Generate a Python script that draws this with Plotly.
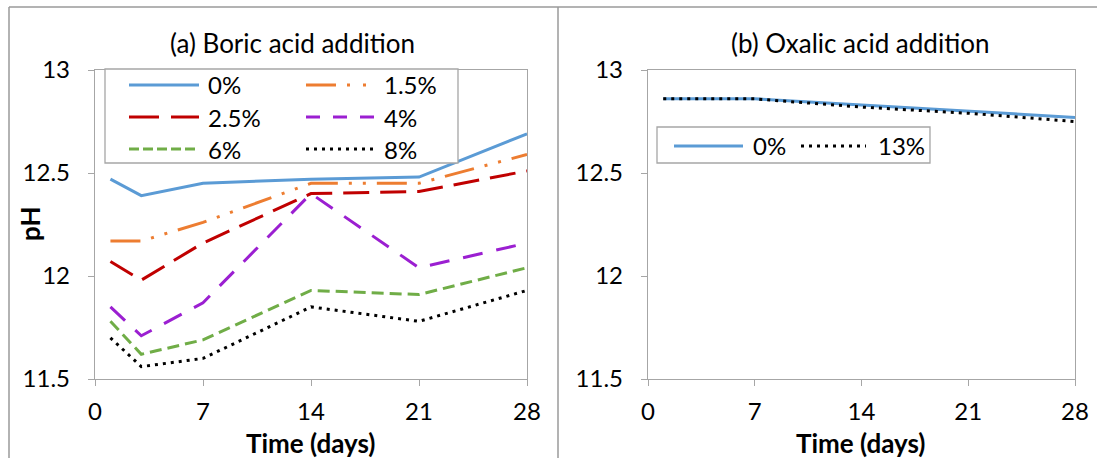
import plotly.graph_objects as go

# ---- data -------------------------------------------------------------
days = [1, 3, 7, 14, 21, 28]

boric_labels = ["0%", "1.5%", "2.5%", "4%", "6%", "8%"]
boric_0 = [12.47, 12.39, 12.45, 12.47, 12.48, 12.69]
boric_15 = [12.17, 12.17, 12.26, 12.45, 12.45, 12.59]
boric_25 = [12.07, 11.98, 12.16, 12.40, 12.41, 12.51]
boric_4 = [11.85, 11.71, 11.87, 12.40, 12.04, 12.16]
boric_6 = [11.78, 11.62, 11.69, 11.93, 11.91, 12.04]
boric_8 = [11.70, 11.56, 11.60, 11.85, 11.78, 11.93]

oxalic_labels = ["0%", "13%"]
oxalic_0 = [12.86, 12.86, 12.86, 12.83, 12.80, 12.77]
oxalic_13 = [12.86, 12.86, 12.86, 12.82, 12.79, 12.75]

x_ticks = [0, 7, 14, 21, 28]

# ---- styles -----------------------------------------------------------
W, H = 1097, 458
FONT = "Lato"
GRID = "#A6A6A6"
TICK_SIZE = 24
LEG_SIZE = 24
TITLE_SIZE = 26
AXT_SIZE = 26

boric_series = [boric_0, boric_15, boric_25, boric_4, boric_6, boric_8]
boric_colors = ["#5B9BD5", "#ED7D31", "#C00000", "#9B1FD1", "#70AD47", "#000000"]
boric_dash = ["solid", "30px,11px,3px,11px,3px,11px", "26px,11px",
              "20px,14px", "12px,6px", "3px,5px"]
boric_key_dash = ["solid", "30px,11px,3px,13px,3px,11px", "30px,12px",
                  "14px,13px", "10px,4px", "3px,5px"]

oxalic_series = [oxalic_0, oxalic_13]
oxalic_colors = ["#5B9BD5", "#000000"]
oxalic_dash = ["solid", "3px,5px"]


def px(x):
    return x / W


def py(y):
    return 1 - y / H


fig = go.Figure()

for name, vals, col, dash in zip(boric_labels, boric_series, boric_colors, boric_dash):
    fig.add_trace(go.Scatter(x=days, y=vals, name=name, mode="lines",
                             line=dict(color=col, width=3, dash=dash),
                             xaxis="x", yaxis="y", showlegend=False))

for name, vals, col, dash in zip(oxalic_labels, oxalic_series, oxalic_colors, oxalic_dash):
    fig.add_trace(go.Scatter(x=days, y=vals, name=name, mode="lines",
                             line=dict(color=col, width=3, dash=dash),
                             xaxis="x2", yaxis="y2", showlegend=False))

axis_common = dict(showline=True, mirror=True, linecolor=GRID, linewidth=1.3,
                   ticks="outside", ticklen=6, tickcolor=GRID, tickwidth=1.3,
                   showgrid=False, zeroline=False, automargin=False,
                   tickfont=dict(family=FONT, size=TICK_SIZE, color="#000000"))

y_dom = [py(379), py(70)]
fig.update_layout(
    width=W, height=H,
    margin=dict(l=0, r=0, t=0, b=0, pad=0, autoexpand=False),
    paper_bgcolor="white", plot_bgcolor="white",
    font=dict(family=FONT, color="#000000"),
    xaxis=dict(domain=[px(95), px(527)], range=[0, 28], tickvals=x_ticks,
               ticklabelstandoff=5, anchor="y", **axis_common),
    yaxis=dict(domain=y_dom, range=[11.5, 13], tick0=11.5, dtick=0.5,
               ticklabelstandoff=13, anchor="x", **axis_common),
    xaxis2=dict(domain=[px(648), px(1075)], range=[0, 28], tickvals=x_ticks,
                ticklabelstandoff=5, anchor="y2", **axis_common),
    yaxis2=dict(domain=y_dom, range=[11.5, 13], tick0=11.5, dtick=0.5,
                ticklabelstandoff=13, anchor="x2", **axis_common),
)

shapes = []
annotations = []

# panel frames
frame = dict(type="line", xref="paper", yref="paper",
             line=dict(color="#9A9A9A", width=1.5), layer="above")
shapes.append(dict(frame, x0=px(9), x1=1, y0=py(7), y1=py(7)))
shapes.append(dict(frame, x0=px(9), x1=px(9), y0=py(7), y1=0))
shapes.append(dict(frame, x0=px(558), x1=px(558), y0=py(7), y1=0))

# panel titles
for text, xc in [("(a) Boric acid addition", 292), ("(b) Oxalic acid addition", 860)]:
    annotations.append(dict(text=text, x=px(xc), y=py(43), xref="paper", yref="paper",
                            xanchor="center", yanchor="middle", showarrow=False,
                            font=dict(family=FONT, size=TITLE_SIZE, color="#000000")))

# axis titles
for xc in [311, 861]:
    annotations.append(dict(text="<b>Time (days)</b>", x=px(xc), y=py(443),
                            xref="paper", yref="paper", xanchor="center",
                            yanchor="middle", showarrow=False,
                            font=dict(family=FONT, size=AXT_SIZE, color="#000000")))
annotations.append(dict(text="<b>pH</b>", x=px(30), y=py(224), xref="paper",
                        yref="paper", xanchor="center", yanchor="middle",
                        textangle=-90, showarrow=False,
                        font=dict(family=FONT, size=AXT_SIZE, color="#000000")))

# legend for panel (a): two columns, three rows
shapes.append(dict(type="rect", xref="paper", yref="paper",
                   x0=px(105), x1=px(458), y0=py(163), y1=py(69),
                   line=dict(color=GRID, width=1.3), fillcolor="white", layer="above"))
col_line = [(129, 199), (306, 374)]
col_text = [206, 382]
row_y = [85, 117, 149]
for i, name in enumerate(boric_labels):
    c, r = i % 2, i // 2
    x0, x1 = col_line[c]
    shapes.append(dict(type="line", xref="paper", yref="paper",
                       x0=px(x0), x1=px(x1), y0=py(row_y[r]), y1=py(row_y[r]),
                       line=dict(color=boric_colors[i], width=3, dash=boric_key_dash[i]),
                       layer="above"))
    annotations.append(dict(text=name, x=px(col_text[c]), y=py(row_y[r]),
                            xref="paper", yref="paper", xanchor="left",
                            yanchor="middle", showarrow=False,
                            font=dict(family=FONT, size=LEG_SIZE, color="#000000")))

# legend for panel (b): one row
shapes.append(dict(type="rect", xref="paper", yref="paper",
                   x0=px(657), x1=px(930), y0=py(163), y1=py(127),
                   line=dict(color=GRID, width=1.3), fillcolor="white", layer="above"))
ox_line = [(674, 743), (801, 866)]
ox_text = [751, 876]
for i, name in enumerate(oxalic_labels):
    x0, x1 = ox_line[i]
    shapes.append(dict(type="line", xref="paper", yref="paper",
                       x0=px(x0), x1=px(x1), y0=py(146), y1=py(146),
                       line=dict(color=oxalic_colors[i], width=3, dash=oxalic_dash[i]),
                       layer="above"))
    annotations.append(dict(text=name, x=px(ox_text[i]), y=py(146),
                            xref="paper", yref="paper", xanchor="left",
                            yanchor="middle", showarrow=False,
                            font=dict(family=FONT, size=LEG_SIZE, color="#000000")))

fig.update_layout(shapes=shapes, annotations=annotations)

fig.write_html("out.html")
